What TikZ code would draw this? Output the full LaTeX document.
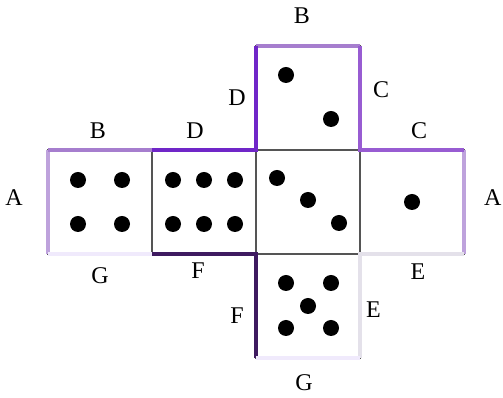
\documentclass[tikz,border=0pt]{standalone}
\usepackage{fontspec}
\setmainfont{Liberation Serif}
\usepackage{tikz}
\usetikzlibrary{positioning,calc}
\definecolor{edgeAcol}{RGB}{190,162,220}
\definecolor{edgeBcol}{RGB}{166,126,206}
\definecolor{edgeCcol}{RGB}{152,92,210}
\definecolor{edgeDcol}{RGB}{112,38,200}
\definecolor{edgeEcol}{RGB}{228,225,234}
\definecolor{edgeFcol}{RGB}{62,26,96}
\definecolor{edgeGcol}{RGB}{240,234,252}
\definecolor{facegray}{RGB}{85,85,85}

\begin{document}
\begin{tikzpicture}[
  x=1pt, y=1pt,
  face/.style={rectangle, draw=facegray, line width=1.1pt, fill=white, minimum size=104pt, inner sep=0pt, outer sep=0pt},
  rim/.style={line width=4pt, line join=miter},
  pip/.style={fill=black},
  lbl/.style={inner sep=0pt, font=\fontsize{24}{28}\selectfont}
]
\useasboundingbox (0,0) rectangle (503,398);

% the six faces of the net
\node[face] (three) at (308,196) {};
\node[face, left=0pt of three] (six) {};
\node[face, left=0pt of six] (four) {};
\node[face, above=0pt of three] (two) {};
\node[face, right=0pt of three] (one) {};
\node[face, below=0pt of three] (five) {};

% pips
\foreach \dx/\dy in {-22/22, 22/22, -22/-22, 22/-22}
  \fill[pip] ($(four)+(\dx,\dy)$) circle (8);
\foreach \dx/\dy in {-31/22, 0/22, 31/22, -31/-22, 0/-22, 31/-22}
  \fill[pip] ($(six)+(\dx,\dy)$) circle (8);
\foreach \dx/\dy in {-31/24, 0/2, 31/-21}
  \fill[pip] ($(three)+(\dx,\dy)$) circle (8);
\foreach \dx/\dy in {-22/23, 23/-21}
  \fill[pip] ($(two)+(\dx,\dy)$) circle (8);
\fill[pip] (one) circle (8);
\foreach \dx/\dy in {-22/23, 23/23, 0/0, -22/-22, 23/-22}
  \fill[pip] ($(five)+(\dx,\dy)$) circle (8);

% matching edges
\draw[rim, edgeAcol] (four.north west) -- (four.south west);
\draw[rim, edgeAcol] (one.north east) -- (one.south east);
\draw[rim, edgeBcol] (four.north west) -- (four.north east);
\draw[rim, edgeBcol] (two.north west) -- (two.north east);
\draw[rim, edgeCcol] (two.north east) -- (two.south east) -- (one.north east);
\draw[rim, edgeDcol] (six.north west) -- (two.south west) -- (two.north west);
\draw[rim, edgeEcol] (one.south east) -- (one.south west) -- (five.south east);
\draw[rim, edgeFcol] (six.south west) -- (five.north west) -- (five.south west);
\draw[rim, edgeGcol] (four.south west) -- (four.south east);
\draw[rim, edgeGcol] (five.south west) -- (five.south east);

% labels
\node[lbl, left=25pt of four.west, yshift=4pt] (lA1) {A};
\node[lbl, right=20pt of one.east, yshift=4pt] (lA2) {A};
\node[lbl, above=11pt of four.north, xshift=-2pt] (lB1) {B};
\node[lbl, above=22pt of two.north, xshift=-6pt] (lB2) {B};
\node[lbl, right=13pt of two.east, yshift=8pt] (lC1) {C};
\node[lbl, above=11pt of one.north, xshift=7pt] (lC2) {C};
\node[lbl, above=11pt of six.north, xshift=-9pt] (lD1) {D};
\node[lbl, left=10pt of two.west] (lD2) {D};
\node[lbl, below=10pt of one.south, xshift=6pt] (lE1) {E};
\node[lbl, right=6pt of five.east, yshift=-4pt] (lE2) {E};
\node[lbl, below=9pt of six.south, xshift=-6pt] (lF1) {F};
\node[lbl, left=12pt of five.west, yshift=-10pt] (lF2) {F};
\node[lbl, below=13pt of four.south] (lG1) {G};
\node[lbl, below=16pt of five.south, xshift=-4pt] (lG2) {G};
\end{tikzpicture}
\end{document}
